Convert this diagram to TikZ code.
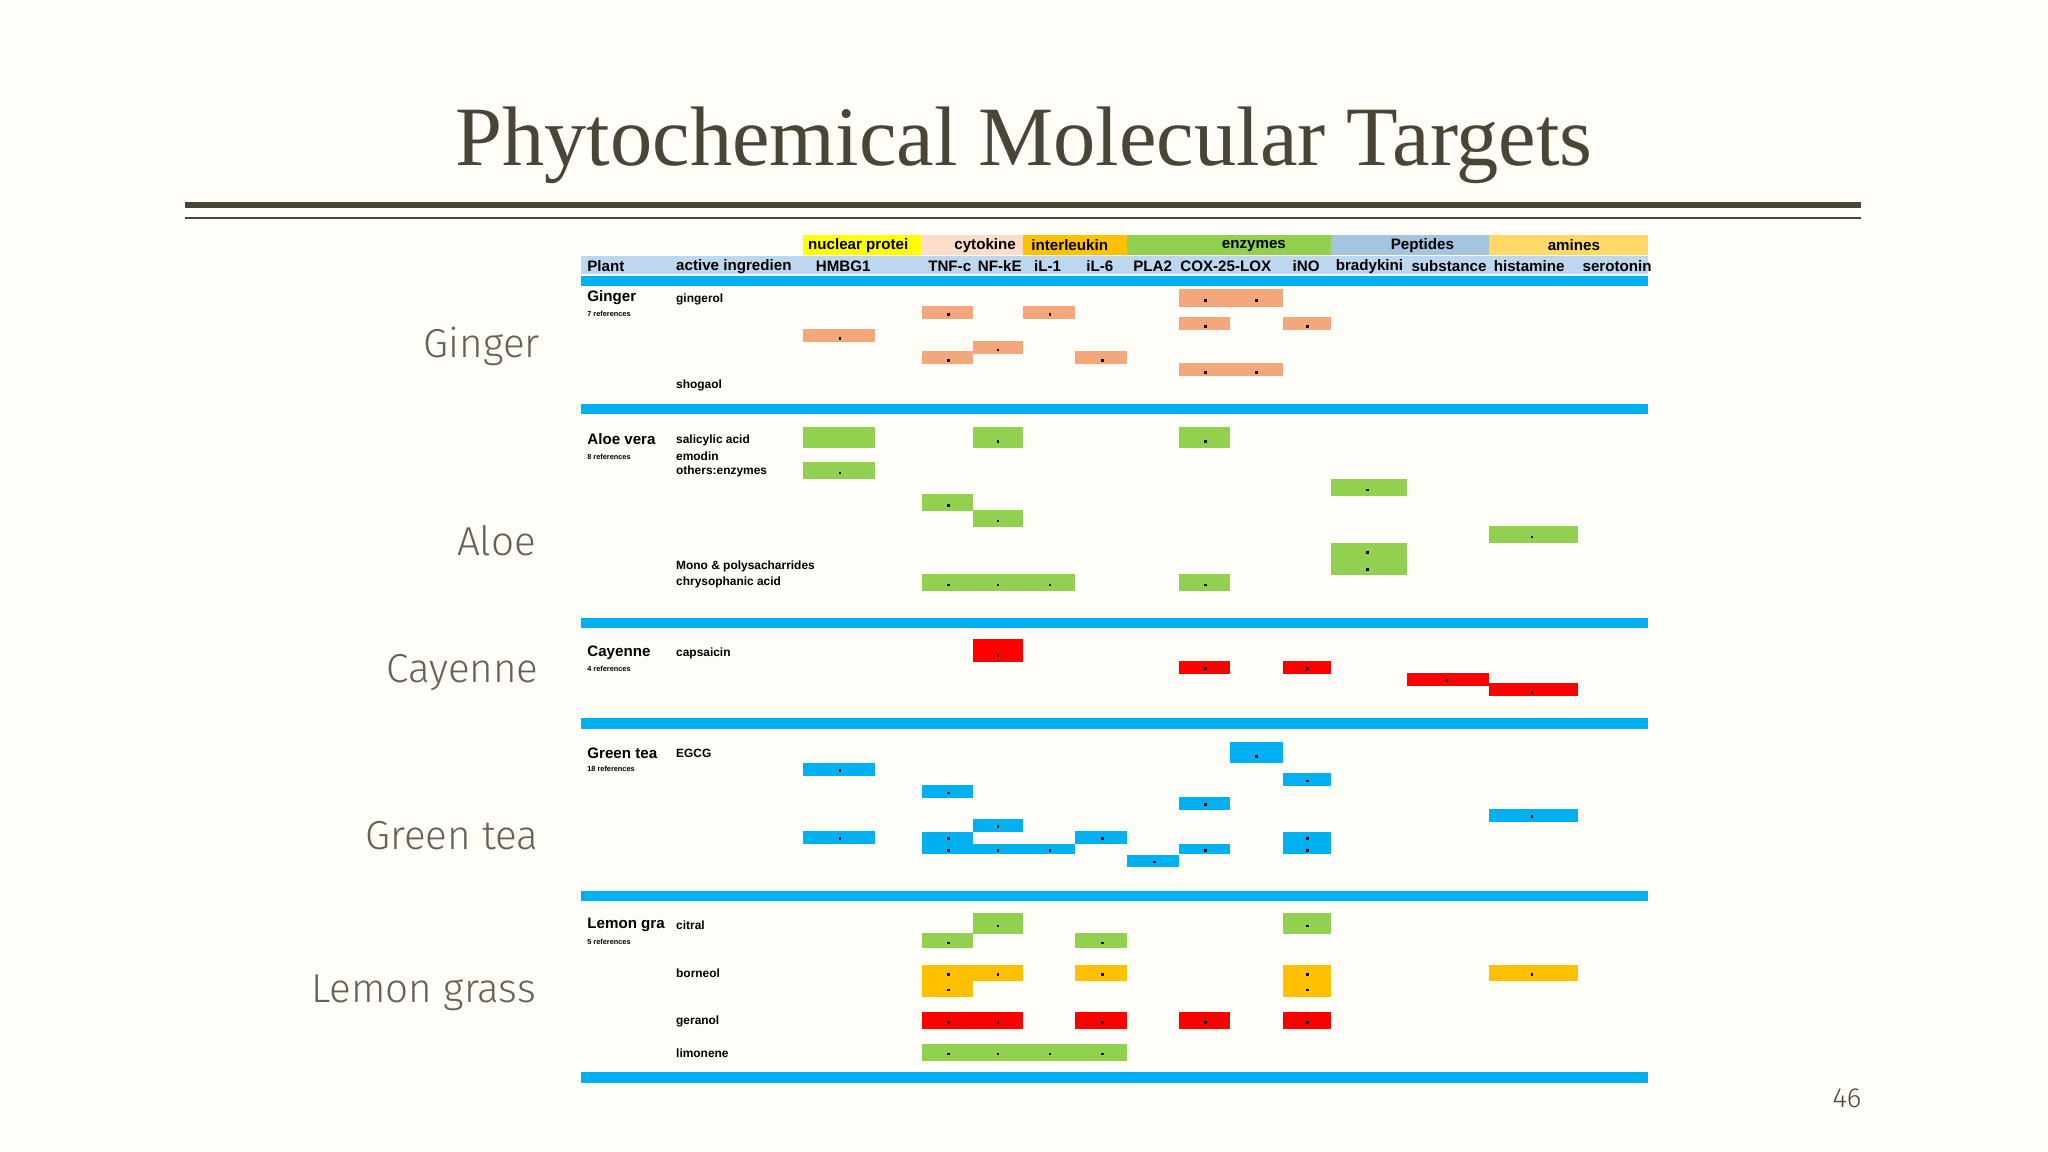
\documentclass[tikz,border=0pt]{standalone}
\usepackage{fontspec}
\setmainfont{Liberation Serif}
\newfontfamily\lab{Fira Sans Light}
\newfontfamily\tab{Liberation Sans}
\definecolor{bg}{HTML}{FFFDF8}
\definecolor{ttl}{HTML}{4B4538}
\definecolor{sal}{HTML}{F4A77A}
\definecolor{grn}{HTML}{92D050}
\definecolor{rd}{HTML}{FF0000}
\definecolor{cy}{HTML}{00B0F0}
\definecolor{org}{HTML}{FFC000}
\definecolor{ylw}{HTML}{FFFF00}
\definecolor{pch}{HTML}{FCDCCB}
\definecolor{lbl}{HTML}{A6C3E0}
\definecolor{lyl}{HTML}{FFD966}
\definecolor{hdr}{HTML}{BDD7EE}
\newcommand{\cellbar}[6]{%
  \fill[#5] (#1,{#3-#4/2}) rectangle (#2,{#3+#4/2});
  \foreach \dx/\dy in {#6} {\fill[black] (\dx-1,\dy-1) rectangle (\dx+1,\dy+1);}
}
\begin{document}
\begin{tikzpicture}[x=0.1mm,y=-0.1mm,
  big/.style={font=\lab\fontsize{8.8pt}{9.5pt}\selectfont, text=ttl!85, anchor=east, inner sep=0},
  th/.style={font=\tab\bfseries\fontsize{3.3pt}{4pt}\selectfont, inner sep=0, anchor=west},
  tc/.style={font=\tab\bfseries\fontsize{3.3pt}{4pt}\selectfont, inner sep=0},
  ts/.style={font=\tab\bfseries\fontsize{2.6pt}{3pt}\selectfont, inner sep=0, anchor=west},
  tr/.style={font=\tab\bfseries\fontsize{1.6pt}{2pt}\selectfont, inner sep=0, anchor=west}]
\fill[bg] (0,0) rectangle (1568,882);
\useasboundingbox (0,0) rectangle (1568,882);
\node[font=\fontsize{18.4pt}{20pt}\selectfont, text=ttl] (title) at (784,111) {Phytochemical Molecular Targets};
\fill[ttl] (142,155) rectangle (1425,159.5);
\fill[ttl] (142,166.3) rectangle (1425,167.7);
\node[font=\lab\fontsize{6pt}{7pt}\selectfont, text=ttl] (pg) at (1414,841) {46};
% category band
\fill[ylw] (615,180) rectangle (706,195);
\fill[pch] (706,180) rectangle (783,195);
\fill[org] (783,180) rectangle (863,195);
\fill[grn] (863,180) rectangle (1019,195);
\fill[lbl] (1019,180) rectangle (1140,195);
\fill[lyl] (1140,180) rectangle (1262,195);
\fill[hdr] (445,196) rectangle (1262,210);
\node[th] at (618,188) {nuclear protei};
\node[th] at (730,188) {cytokine};
\node[th] at (789,188) {interleukin};
\node[tc] at (960,188) {enzymes};
\node[tc] at (1089,188) {Peptides};
\node[tc] at (1205,188) {amines};
\foreach \x/\t in {449/Plant,517/active ingredien,624/HMBG1,710/TNF-c,748/NF-kE,791/iL-1,831/iL-6,867/PLA2,903/COX-25-LOX,989/iNO,1022/bradykini,1080/substance,1143/histamine,1211/serotonin}
  \node[th] at (\x,204) {\t};
% blue separators
\foreach \y in {211,309,473,550,682,821} \fill[cy] (445,\y) rectangle (1262,\y+8);
% row labels
\node[big] at (414,265) {Ginger};
\node[big] at (411,414) {Aloe};
\node[big] at (413,515) {Cayenne};
\node[big] at (413,640) {Green tea};
\node[big] at (411,760) {Lemon grass};
\node[th] at (449,228) {Ginger}; \node[tr] at (449,240) {7 references};
\node[ts] at (517,229) {gingerol}; \node[ts] at (517,295) {shogaol};
\node[th] at (449,336) {Aloe vera}; \node[tr] at (449,350) {8 references};
\node[ts] at (517,337) {salicylic acid}; \node[ts] at (517,349) {emodin}; \node[ts] at (517,361) {others:enzymes};
\node[ts] at (517,434) {Mono \& polysacharrides}; \node[ts] at (517,446) {chrysophanic acid};
\node[th] at (449,500) {Cayenne}; \node[tr] at (449,512) {4 references};
\node[ts] at (517,500) {capsaicin};
\node[th] at (449,577) {Green tea}; \node[tr] at (449,589) {18 references};
\node[ts] at (517,577) {EGCG};
\node[th] at (449,708) {Lemon gra}; \node[tr] at (449,721) {5 references};
\node[ts] at (517,708) {citral}; \node[ts] at (517,745) {borneol}; \node[ts] at (517,782) {geranol}; \node[ts] at (517,806) {limonene};
% Ginger
\cellbar{903}{982}{228}{14}{sal}{923/230,962/230}
\cellbar{706}{745}{239}{10}{sal}{726/241}
\cellbar{783}{823}{239}{10}{sal}{804/241}
\cellbar{903}{942}{248}{10}{sal}{923/250}
\cellbar{982}{1019}{248}{10}{sal}{1001/250}
\cellbar{615}{670}{257}{10}{sal}{643/259}
\cellbar{745}{783}{266}{10}{sal}{764/268}
\cellbar{706}{745}{274}{10}{sal}{726/276}
\cellbar{823}{863}{274}{10}{sal}{844/276}
\cellbar{903}{982}{283}{10}{sal}{923/285,962/285}
% Aloe
\cellbar{615}{670}{335}{16}{grn}{}
\cellbar{745}{783}{335}{16}{grn}{764/338}
\cellbar{903}{942}{335}{16}{grn}{923/338}
\cellbar{615}{670}{360}{13}{grn}{643/362}
\cellbar{1019}{1077}{373}{13}{grn}{1047/375}
\cellbar{706}{745}{385}{13}{grn}{726/387}
\cellbar{745}{783}{397}{13}{grn}{764/399}
\cellbar{1140}{1208}{409}{13}{grn}{1173/411}
\cellbar{1019}{1077}{428}{24}{grn}{1047/423,1047/436}
\cellbar{706}{823}{446}{13}{grn}{726/448,764/448,804/448}
\cellbar{903}{942}{446}{13}{grn}{923/448}
% Cayenne
\cellbar{745}{783}{498}{17}{rd}{764/502}
\cellbar{903}{942}{511}{10}{rd}{923/512}
\cellbar{982}{1019}{511}{10}{rd}{1001/512}
\cellbar{1077}{1140}{520}{10}{rd}{1108/521}
\cellbar{1140}{1208}{528}{10}{rd}{1173/530}
% Green tea
\cellbar{942}{982}{576}{16}{cy}{962/579}
\cellbar{615}{670}{589}{10}{cy}{643/590}
\cellbar{982}{1019}{597}{10}{cy}{1001/598}
\cellbar{706}{745}{606}{10}{cy}{726/607}
\cellbar{903}{942}{615}{10}{cy}{923/616}
\cellbar{1140}{1208}{624}{10}{cy}{1173/625}
\cellbar{745}{783}{632}{10}{cy}{764/633}
\cellbar{615}{670}{641}{10}{cy}{643/642}
\cellbar{823}{863}{641}{10}{cy}{844/642}
\cellbar{706}{745}{645.5}{17}{cy}{726/642,726/651}
\cellbar{745}{823}{650}{8}{cy}{764/651,804/651}
\cellbar{903}{942}{650}{8}{cy}{923/651}
\cellbar{982}{1019}{645.5}{17}{cy}{1001/642,1001/651}
\cellbar{863}{903}{659}{9}{cy}{884/660}
% Lemon grass
\cellbar{745}{783}{707}{16}{grn}{764/709}
\cellbar{982}{1019}{707}{16}{grn}{1001/709}
\cellbar{706}{745}{720}{12}{grn}{726/722}
\cellbar{823}{863}{720}{12}{grn}{844/722}
\cellbar{706}{745}{751}{24}{org}{726/746,726/758}
\cellbar{745}{783}{745}{12}{org}{764/746}
\cellbar{823}{863}{745}{12}{org}{844/746}
\cellbar{982}{1019}{751}{24}{org}{1001/746,1001/758}
\cellbar{1140}{1208}{745}{12}{org}{1173/746}
\cellbar{706}{783}{781}{13}{rd}{726/783,764/783}
\cellbar{823}{863}{781}{13}{rd}{844/783}
\cellbar{903}{942}{781}{13}{rd}{923/783}
\cellbar{982}{1019}{781}{13}{rd}{1001/783}
\cellbar{706}{863}{806}{13}{grn}{726/807,764/807,804/807,844/807}
\end{tikzpicture}
\end{document}
